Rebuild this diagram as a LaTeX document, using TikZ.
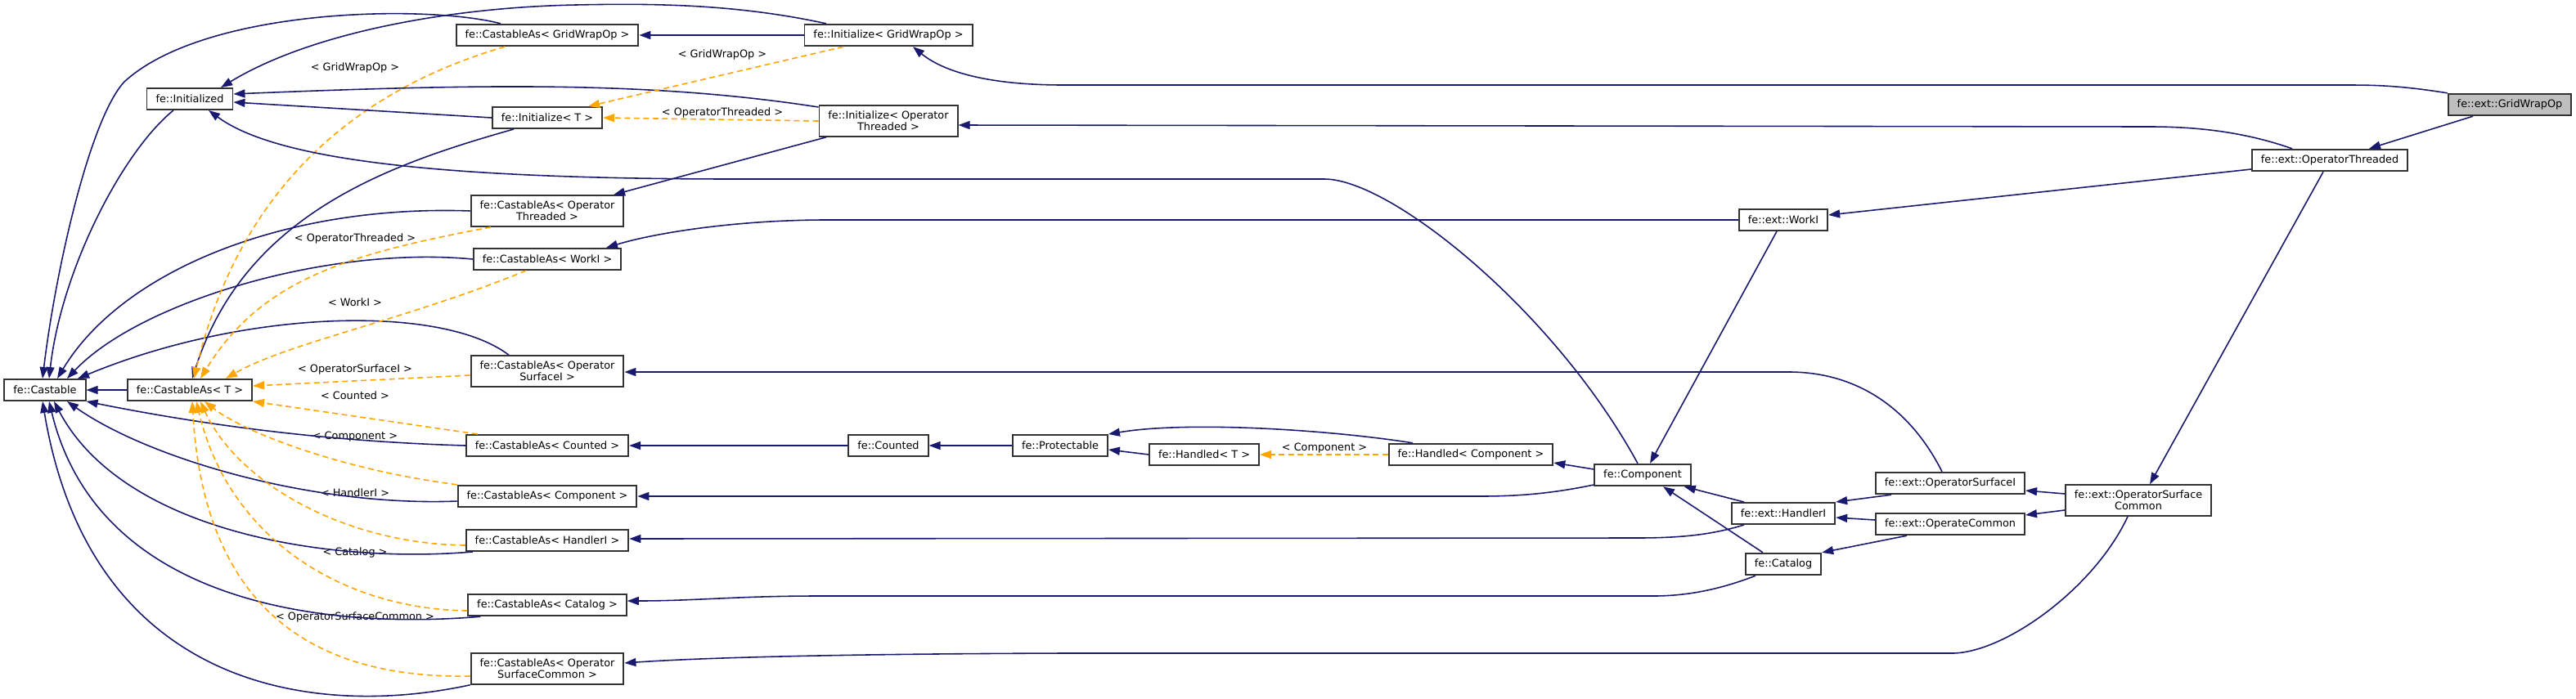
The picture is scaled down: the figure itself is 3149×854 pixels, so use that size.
\documentclass[tikz,border=0pt]{standalone}
\usepackage{fontspec}
\setmainfont{DejaVu Sans}
\usepackage{tikz}
\usetikzlibrary{arrows.meta}
\definecolor{edgeblue}{HTML}{191970}
\definecolor{tmplorange}{HTML}{FFA500}
\definecolor{boxline}{HTML}{333333}
\definecolor{focusgray}{HTML}{BFBFBF}

\begin{document}
\begin{tikzpicture}[
    x=0.01cm, y=-0.01cm,
    cls/.style={draw=boxline, line width=0.55pt, fill=white, inner xsep=0.11cm, inner ysep=0.07cm,
                minimum height=0.26cm, font=\fontsize{3.65}{3.9}\selectfont, align=center},
    focus/.style={cls, fill=focusgray},
    inh/.style={draw=edgeblue, line width=0.45pt, -{Triangle[length=0.14cm, width=0.1cm]}},
    tpl/.style={draw=tmplorange, line width=0.45pt, dash pattern=on 0.07cm off 0.045cm,
                -{Triangle[length=0.14cm, width=0.1cm]}},
    tlbl/.style={font=\fontsize{3.65}{3.9}\selectfont, inner sep=0pt},
  ]
  \path[use as bounding box, fill=white] (0,0) rectangle (3149,854);

  % classes
  \node[cls] (castable)  at (55,477)   {fe::Castable};
  \node[cls] (castT)     at (232,477)  {fe::CastableAs< T >};
  \node[cls] (initd)     at (232,121)  {fe::Initialized};
  \node[cls] (caGrid)    at (669,43)   {fe::CastableAs< GridWrapOp >};
  \node[cls] (iniT)      at (669,144)  {fe::Initialize< T >};
  \node[cls] (iniGrid)   at (1086,43)  {fe::Initialize< GridWrapOp >};
  \node[cls] (iniOpT)    at (1086,148) {fe::Initialize< Operator\\Threaded >};
  \node[cls] (caOpT)     at (669,258)  {fe::CastableAs< Operator\\Threaded >};
  \node[cls] (caWork)    at (669,317)  {fe::CastableAs< WorkI >};
  \node[cls] (caSurfI)   at (669,454)  {fe::CastableAs< Operator\\SurfaceI >};
  \node[cls] (caCounted) at (669,545)  {fe::CastableAs< Counted >};
  \node[cls] (caComp)    at (669,607)  {fe::CastableAs< Component >};
  \node[cls] (caHandler) at (669,661)  {fe::CastableAs< HandlerI >};
  \node[cls] (caCatalog) at (669,740)  {fe::CastableAs< Catalog >};
  \node[cls] (caSurfC)   at (669,818)  {fe::CastableAs< Operator\\SurfaceCommon >};
  \node[cls] (counted)   at (1086,545) {fe::Counted};
  \node[cls] (protect)   at (1296,545) {fe::Protectable};
  \node[cls] (handT)     at (1472,556) {fe::Handled< T >};
  \node[cls] (handComp)  at (1798,556) {fe::Handled< Component >};
  \node[cls] (comp)      at (2008,581) {fe::Component};
  \node[cls] (workI)     at (2180,269) {fe::ext::WorkI};
  \node[cls] (handlerI)  at (2180,628) {fe::ext::HandlerI};
  \node[cls] (catalog)   at (2180,690) {fe::Catalog};
  \node[cls] (opSurfI)   at (2384,591) {fe::ext::OperatorSurfaceI};
  \node[cls] (opCommon)  at (2384,641) {fe::ext::OperateCommon};
  \node[cls] (opSurfC)   at (2614,612) {fe::ext::OperatorSurface\\Common};
  \node[cls] (opThr)     at (2848,196) {fe::ext::OperatorThreaded};
  \node[focus] (grid)    at (3068,128) {fe::ext::GridWrapOp};

  % template labels
  \node[tlbl] (lCaGrid)    at (434,83)   {< GridWrapOp >};
  \node[tlbl] (lIniGrid)   at (883,67)   {< GridWrapOp >};
  \node[tlbl] (lIniOpT)    at (883,138)  {< OperatorThreaded >};
  \node[tlbl] (lCaOpT)     at (434,292)  {< OperatorThreaded >};
  \node[tlbl] (lCaWork)    at (434,370)  {< WorkI >};
  \node[tlbl] (lCaSurfI)   at (434,452)  {< OperatorSurfaceI >};
  \node[tlbl] (lCaCounted) at (434,484)  {< Counted >};
  \node[tlbl] (lCaComp)    at (434,534)  {< Component >};
  \node[tlbl] (lCaHandler) at (434,603)  {< HandlerI >};
  \node[tlbl] (lCaCatalog) at (434,676)  {< Catalog >};
  \node[tlbl] (lCaSurfC)   at (434,755)  {< OperatorSurfaceCommon >};
  \node[tlbl] (lHandComp)  at (1619,548) {< Component >};

  % into fe::Castable
  \draw[inh] (castT) -- (castable);
  \draw[inh] ([xshift=-0.2cm]initd.south) .. controls (150,185) and (75,330) .. ([xshift=0.05cm]castable.north);
  \draw[inh] ([xshift=-0.57cm]caGrid.north) .. controls (520,5) and (250,10) .. (152,100)
             .. controls (110,145) and (68,330) .. ([xshift=-0.03cm]castable.north);
  \draw[inh] (caOpT.west) .. controls (350,250) and (150,330) .. ([xshift=0.15cm]castable.north);
  \draw[inh] (caWork.west) .. controls (400,300) and (170,370) .. ([xshift=0.27cm]castable.north);
  \draw[inh] ([xshift=-0.47cm]caSurfI.north) .. controls (540,372) and (300,378) .. ([xshift=0.4cm]castable.north);
  \draw[inh] (caCounted.west) .. controls (400,540) and (250,520) .. (castable.south east);
  \draw[inh] ([yshift=-0.06cm]caComp.west) .. controls (380,620) and (180,560) .. ([xshift=0.27cm]castable.south);
  \draw[inh] ([xshift=0.09cm]caHandler.south west) .. controls (400,690) and (150,650) .. ([xshift=0.11cm]castable.south);
  \draw[inh] ([xshift=0.16cm]caCatalog.south west) .. controls (400,770) and (120,740) .. ([xshift=0.05cm]castable.south);
  \draw[inh] (caSurfC.south west) .. controls (380,880) and (110,840) .. ([xshift=-0.03cm]castable.south);

  % into fe::CastableAs< T >
  \draw[inh] ([xshift=-0.41cm]iniT.south) .. controls (480,200) and (300,260) .. ([xshift=0.03cm]castT.north);
  \draw[tpl] ([xshift=-0.52cm]caGrid.south) .. controls (470,100) and (300,200) .. ([xshift=0.05cm]castT.north);
  \draw[tpl] ([xshift=-0.69cm]caOpT.south) .. controls (430,310) and (320,340) .. ([xshift=0.13cm]castT.north);
  \draw[tpl] ([xshift=-0.26cm]caWork.south) .. controls (500,390) and (350,420) .. ([xshift=0.44cm]castT.north);
  \draw[tpl] ([yshift=-0.05cm]caSurfI.west) -- ([yshift=0.05cm]castT.east);
  \draw[tpl] ([xshift=0.15cm]caCounted.north west) -- (castT.south east);
  \draw[tpl] (caComp.north west) .. controls (420,575) and (300,530) .. ([xshift=0.18cm]castT.south);
  \draw[tpl] ([yshift=-0.06cm]caHandler.west) .. controls (420,665) and (290,590) .. ([xshift=0.13cm]castT.south);
  \draw[tpl] ([yshift=-0.07cm]caCatalog.west) .. controls (420,745) and (280,660) .. ([xshift=0.08cm]castT.south);
  \draw[tpl] ([yshift=-0.09cm]caSurfC.west) .. controls (400,830) and (250,760) .. ([xshift=0.03cm]castT.south);

  % into fe::Initialized
  \draw[inh] (iniT.west) -- ([yshift=-0.04cm]initd.east);
  \draw[inh] ([yshift=0.17cm]iniOpT.west) .. controls (800,100) and (600,102) .. ([yshift=0.06cm]initd.east);
  \draw[inh] ([xshift=-0.76cm]iniGrid.north) .. controls (900,5) and (800,4) .. (704,6)
             .. controls (550,9) and (380,40) .. ([xshift=0.38cm]initd.north);
  \draw[inh] ([xshift=-0.06cm]comp.north) .. controls (1900,380) and (1700,219) .. (1619,219) -- (900,219)
             .. controls (500,219) and (330,190) .. ([xshift=0.23cm]initd.south);

  % Initialize / CastableAs chain
  \draw[tpl] ([xshift=-0.55cm]iniGrid.south) -- ([xshift=0.5cm]iniT.north);
  \draw[tpl] (iniOpT.west) -- (iniT.east);
  \draw[inh] (iniGrid) -- (caGrid);
  \draw[inh] (grid.north west) .. controls (2930,104) and (2900,104) .. (2863,104) -- (1300,104)
             .. controls (1200,104) and (1150,85) .. ([xshift=0.3cm]iniGrid.south);
  \draw[inh] ([xshift=-0.46cm]opThr.north) .. controls (2740,160) and (2680,155) .. (2628,155)
             -- ([yshift=-0.05cm]iniOpT.east);
  \draw[inh] ([xshift=-0.76cm]iniOpT.south) -- ([xshift=0.81cm]caOpT.north);
  \draw[inh] (workI.west) -- (1010,269) .. controls (900,269) and (800,285) .. ([xshift=0.72cm]caWork.north);
  \draw[inh] ([xshift=-0.1cm]opSurfI.north) .. controls (2330,490) and (2260,455) .. (2187,455)
             -- ([yshift=-0.01cm]caSurfI.east);

  % counted / handled / component
  \draw[inh] (counted) -- (caCounted);
  \draw[inh] (protect) -- (counted);
  \draw[inh] (handT.west) -- ([yshift=-0.05cm]protect.east);
  \draw[inh] ([xshift=-0.71cm]handComp.north) .. controls (1620,525) and (1450,515) .. (protect.north east);
  \draw[tpl] (handComp) -- (handT);
  \draw[inh] ([yshift=0.07cm]comp.west) -- ([yshift=-0.1cm]handComp.east);
  \draw[inh] ([yshift=-0.12cm]comp.west) .. controls (1900,603) and (1860,607) .. (1810,607) -- (caComp.east);
  \draw[inh] ([xshift=-0.08cm]workI.south) -- ([xshift=0.09cm]comp.north);
  \draw[inh] ([xshift=-0.48cm]handlerI.north) -- ([xshift=-0.09cm]comp.south east);
  \draw[inh] ([xshift=-0.25cm]catalog.north) -- ([xshift=0.25cm]comp.south);
  \draw[inh] ([xshift=-0.48cm]handlerI.south) .. controls (2090,655) and (2050,658) .. (2000,658)
             -- ([yshift=0.02cm]caHandler.east);
  \draw[inh] ([xshift=-0.34cm]catalog.south) .. controls (2100,722) and (2060,729) .. (2021,729) -- (1000,729)
             .. controls (900,729) and (850,735) .. ([yshift=0.05cm]caCatalog.east);
  \draw[inh] ([xshift=-0.13cm]opSurfC.south) .. controls (2560,720) and (2450,799) .. (2386,799) -- (1300,799)
             .. controls (1000,800) and (850,805) .. ([yshift=0.07cm]caSurfC.east);

  % ext classes
  \draw[inh] ([xshift=0.2cm]opSurfI.south west) -- ([yshift=0.14cm]handlerI.east);
  \draw[inh] ([yshift=0.05cm]opCommon.west) -- ([yshift=-0.05cm]handlerI.east);
  \draw[inh] ([xshift=-0.53cm]opCommon.south) -- (catalog.north east);
  \draw[inh] ([yshift=0.08cm]opSurfC.west) -- ([yshift=-0.09cm]opSurfI.east);
  \draw[inh] ([yshift=-0.12cm]opSurfC.west) -- ([yshift=0.11cm]opCommon.east);
  \draw[inh] ([xshift=-0.08cm]opThr.south) -- ([xshift=0.14cm]opSurfC.north);
  \draw[inh] ([yshift=-0.11cm]opThr.west) -- ([yshift=0.06cm]workI.east);
  \draw[inh] ([xshift=-0.45cm]grid.south) -- ([xshift=0.48cm]opThr.north);
\end{tikzpicture}
\end{document}
